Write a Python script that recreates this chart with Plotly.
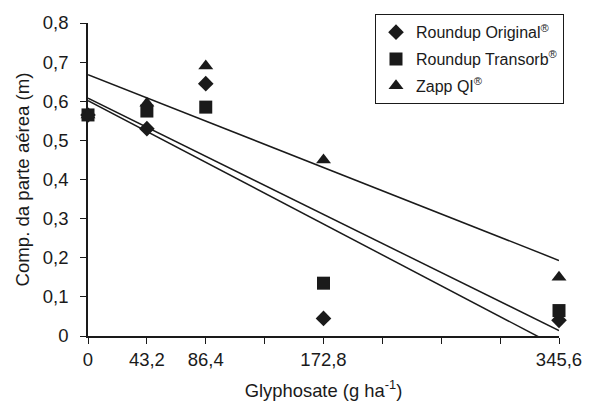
import numpy as np
import plotly.graph_objects as go

doses = [0, 43.2, 86.4, 172.8, 345.6]
roundup_original = [0.565, 0.53, 0.645, 0.045, 0.04]
roundup_transorb = [0.565, 0.575, 0.585, 0.135, 0.065]
zapp_qi = [0.565, 0.595, 0.69, 0.45, 0.15]

series_names = ["Roundup Original<sup>®</sup>", "Roundup Transorb<sup>®</sup>", "Zapp QI<sup>®</sup>"]
series_values = [roundup_original, roundup_transorb, zapp_qi]
symbols = ["diamond", "square", "triangle-up"]
sizes = [12, 13, 13]

x_tickvals = [0, 43.2, 86.4, 172.8, 345.6]
x_ticktext = ["0", "43,2", "86,4", "172,8", "345,6"]
x_minor_step = 43.2

fig = go.Figure()
xs = np.array(doses)
for i, (name, vals) in enumerate(zip(series_names, series_values)):
    slope, intercept = np.polyfit(xs, np.array(vals), 1)
    xl = [0, 345.6]
    fig.add_trace(go.Scatter(x=xl, y=[intercept + slope * v for v in xl], mode="lines",
                             line=dict(color="#1a1a1a", width=1.5), showlegend=False,
                             hoverinfo="skip"))
for i, (name, vals) in enumerate(zip(series_names, series_values)):
    fig.add_trace(go.Scatter(x=doses, y=vals, mode="markers", name=name,
                             marker=dict(symbol=symbols[i], size=sizes[i], color="#1a1a1a"),
                             cliponaxis=False, legendgroup=str(i)))

font_family = "Liberation Sans, Arial, sans-serif"
fig.update_layout(
    width=609, height=414,
    margin=dict(l=88, r=50, t=20, b=78),
    paper_bgcolor="white", plot_bgcolor="white",
    separators=",.",
    font=dict(family=font_family, size=18.5, color="#1a1a1a"),
    legend=dict(x=1.0106, y=1.028, xanchor="right", yanchor="top",
                bordercolor="#1a1a1a", borderwidth=1, bgcolor="white",
                font=dict(size=16, family=font_family), tracegroupgap=3,
                traceorder="grouped"),
    xaxis=dict(range=[0, 345.6], tickvals=x_tickvals, ticktext=x_ticktext,
               showline=True, linecolor="#1a1a1a", linewidth=1.5,
               ticks="outside", ticklen=6, tickcolor="#1a1a1a", tickwidth=1.2,
               ticklabelstandoff=0,
               minor=dict(tick0=0, dtick=x_minor_step, ticks="outside", ticklen=6,
                          tickcolor="#1a1a1a", tickwidth=1.2, showgrid=False),
               showgrid=False, zeroline=False,
               title=dict(text="Glyphosate (g ha<sup>-1</sup>)", standoff=15,
                          font=dict(size=18.4))),
    yaxis=dict(range=[0, 0.8], dtick=0.1, tick0=0,
               showline=True, linecolor="#1a1a1a", linewidth=1.5,
               ticks="outside", ticklen=6, tickcolor="#1a1a1a", tickwidth=1.2,
               ticklabelstandoff=8,
               showgrid=False, zeroline=False,
               title=dict(text="Comp. da parte aérea (m)", standoff=8,
                          font=dict(size=18.6))),
)
fig.write_html("out.html")
